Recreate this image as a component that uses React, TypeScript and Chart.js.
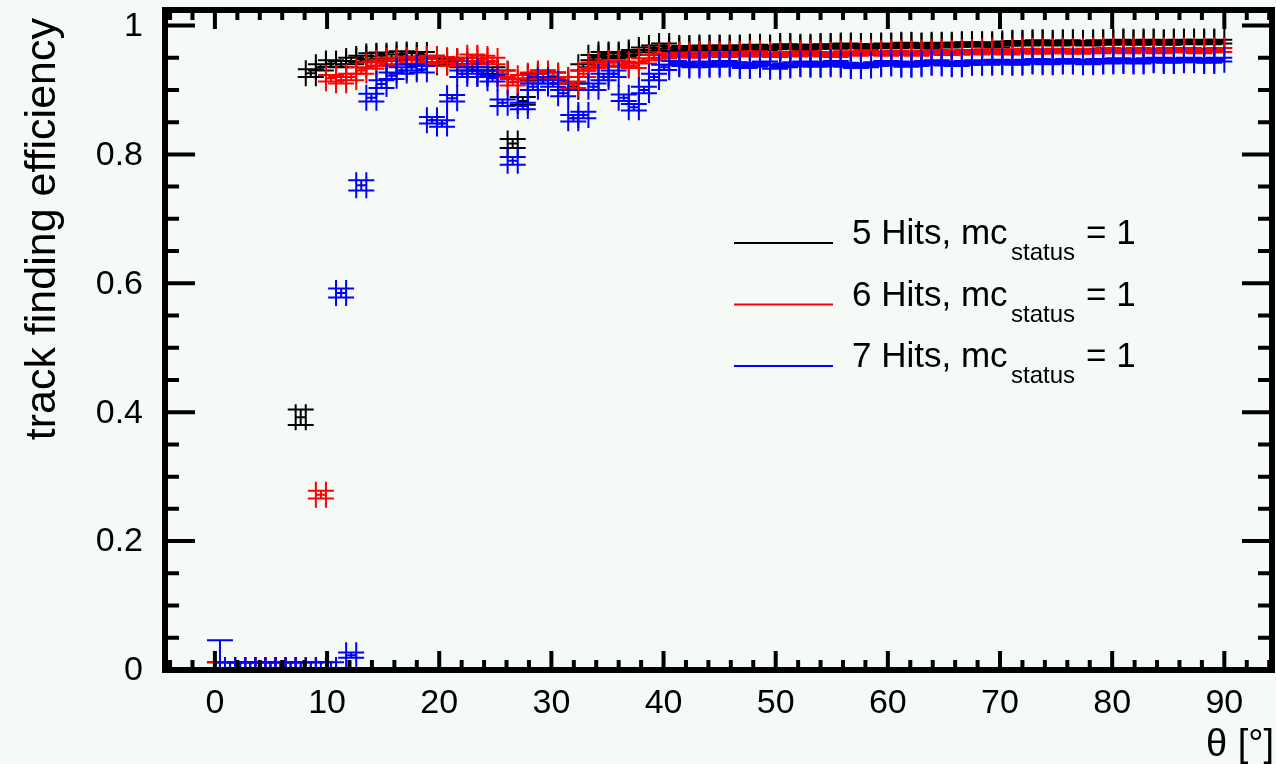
import React, { useEffect, useRef } from "react";
import { Chart, registerables } from "chart.js";

Chart.register(...registerables);

// ---- binning (100 bins of theta between 0 and 90 degrees) ----
const N_BINS = 100;
const THETA_MIN = 0;
const THETA_MAX = 90;
const BIN_HALF = (THETA_MAX - THETA_MIN) / N_BINS / 2;
const thetaCenters: number[] = Array.from({ length: N_BINS }, (_, i) => THETA_MIN + (2 * i + 1) * BIN_HALF);

// ---- efficiencies ----
const eff5Hits = [
  0, 0, 0, 0, 0, 0, 0, 0, 0.392, 0.926,
  0.935, 0.941, 0.940, 0.945, 0.948, 0.952, 0.953, 0.950, 0.955, 0.952,
  0.954, 0.948, 0.943, 0.945, 0.940, 0.935, 0.925, 0.930, 0.925, 0.817,
  0.883, 0.920, 0.925, 0.922, 0.915, 0.905, 0.935, 0.950, 0.955, 0.953,
  0.955, 0.958, 0.962, 0.965, 0.968, 0.963, 0.965, 0.964, 0.966, 0.965,
  0.966, 0.964, 0.966, 0.967, 0.965, 0.966, 0.968, 0.967, 0.965, 0.967,
  0.968, 0.967, 0.969, 0.968, 0.967, 0.968, 0.969, 0.968, 0.970, 0.969,
  0.968, 0.970, 0.969, 0.970, 0.971, 0.970, 0.971, 0.969, 0.972, 0.973,
  0.972, 0.974, 0.973, 0.972, 0.974, 0.973, 0.972, 0.974, 0.973, 0.975,
  0.974, 0.973, 0.975, 0.974, 0.973, 0.975, 0.974, 0.975, 0.974, 0.975,
];
const eff6Hits = [
  0, 0, 0, 0, 0, 0, 0, 0, 0, 0,
  0.272, 0.918, 0.915, 0.920, 0.930, 0.938, 0.942, 0.945, 0.944, 0.946,
  0.944, 0.948, 0.946, 0.942, 0.945, 0.950, 0.948, 0.945, 0.925, 0.912,
  0.918, 0.922, 0.925, 0.922, 0.915, 0.908, 0.925, 0.938, 0.940, 0.942,
  0.940, 0.938, 0.945, 0.950, 0.953, 0.954, 0.955, 0.953, 0.956, 0.955,
  0.954, 0.956, 0.955, 0.957, 0.955, 0.954, 0.956, 0.955, 0.957, 0.956,
  0.955, 0.954, 0.957, 0.956, 0.958, 0.957, 0.956, 0.958, 0.957, 0.956,
  0.958, 0.959, 0.957, 0.958, 0.959, 0.958, 0.960, 0.959, 0.958, 0.960,
  0.961, 0.959, 0.960, 0.961, 0.960, 0.959, 0.961, 0.960, 0.962, 0.961,
  0.960, 0.962, 0.961, 0.960, 0.962, 0.961, 0.962, 0.960, 0.961, 0.962,
];
const eff7Hits = [
  0, 0, 0, 0, 0, 0, 0, 0, 0, 0,
  0, 0, 0.585, 0.023, 0.752, 0.888, 0.909, 0.922, 0.930, 0.935,
  0.932, 0.853, 0.848, 0.887, 0.925, 0.930, 0.925, 0.918, 0.880, 0.790,
  0.875, 0.905, 0.915, 0.910, 0.895, 0.856, 0.861, 0.905, 0.920, 0.925,
  0.888, 0.873, 0.900, 0.920, 0.935, 0.942, 0.940, 0.938, 0.941, 0.939,
  0.942, 0.940, 0.937, 0.939, 0.941, 0.936, 0.938, 0.940, 0.941, 0.939,
  0.940, 0.942, 0.939, 0.937, 0.938, 0.940, 0.942, 0.941, 0.939, 0.940,
  0.942, 0.943, 0.941, 0.940, 0.942, 0.943, 0.942, 0.944, 0.943, 0.942,
  0.944, 0.945, 0.943, 0.944, 0.945, 0.944, 0.943, 0.945, 0.944, 0.946,
  0.945, 0.944, 0.946, 0.947, 0.945, 0.946, 0.947, 0.946, 0.945, 0.947,
];

// ---- statistical errors (upper; lower is limited by 0) ----
const err5Hits = [
  0.012, 0.012, 0.012, 0.012, 0.012, 0.012, 0.012, 0.012, 0.012, 0.006,
  0.005, 0.005, 0.005, 0.005, 0.005, 0.005, 0.005, 0.005, 0.005, 0.005,
  0.005, 0.005, 0.005, 0.005, 0.005, 0.005, 0.005, 0.005, 0.005, 0.007,
  0.006, 0.005, 0.005, 0.005, 0.005, 0.005, 0.005, 0.004, 0.004, 0.004,
  0.004, 0.004, 0.004, 0.004, 0.004, 0.003, 0.003, 0.003, 0.003, 0.003,
  0.003, 0.003, 0.003, 0.003, 0.003, 0.003, 0.003, 0.003, 0.003, 0.003,
  0.003, 0.003, 0.003, 0.003, 0.003, 0.003, 0.003, 0.003, 0.003, 0.003,
  0.003, 0.003, 0.003, 0.003, 0.003, 0.003, 0.003, 0.003, 0.003, 0.003,
  0.003, 0.003, 0.003, 0.003, 0.003, 0.003, 0.003, 0.003, 0.003, 0.003,
  0.003, 0.003, 0.003, 0.003, 0.003, 0.003, 0.003, 0.003, 0.003, 0.003,
];
const err6Hits = [
  0.012, 0.012, 0.012, 0.012, 0.012, 0.012, 0.012, 0.012, 0.012, 0.012,
  0.006, 0.005, 0.005, 0.005, 0.005, 0.005, 0.005, 0.005, 0.005, 0.005,
  0.005, 0.005, 0.005, 0.005, 0.005, 0.005, 0.005, 0.005, 0.005, 0.005,
  0.005, 0.005, 0.005, 0.005, 0.005, 0.005, 0.005, 0.004, 0.004, 0.004,
  0.004, 0.004, 0.004, 0.004, 0.004, 0.003, 0.003, 0.003, 0.003, 0.003,
  0.003, 0.003, 0.003, 0.003, 0.003, 0.003, 0.003, 0.003, 0.003, 0.003,
  0.003, 0.003, 0.003, 0.003, 0.003, 0.003, 0.003, 0.003, 0.003, 0.003,
  0.003, 0.003, 0.003, 0.003, 0.003, 0.003, 0.003, 0.003, 0.003, 0.003,
  0.003, 0.003, 0.003, 0.003, 0.003, 0.003, 0.003, 0.003, 0.003, 0.003,
  0.003, 0.003, 0.003, 0.003, 0.003, 0.003, 0.003, 0.003, 0.003, 0.003,
];
const err7Hits = [
  0.046, 0.012, 0.012, 0.012, 0.012, 0.012, 0.012, 0.012, 0.012, 0.012,
  0.012, 0.012, 0.007, 0.004, 0.008, 0.006, 0.006, 0.005, 0.005, 0.005,
  0.005, 0.005, 0.005, 0.005, 0.005, 0.005, 0.005, 0.005, 0.005, 0.006,
  0.005, 0.005, 0.005, 0.005, 0.005, 0.005, 0.005, 0.005, 0.005, 0.005,
  0.005, 0.005, 0.005, 0.005, 0.004, 0.003, 0.003, 0.003, 0.003, 0.003,
  0.003, 0.003, 0.003, 0.003, 0.003, 0.003, 0.003, 0.003, 0.003, 0.003,
  0.003, 0.003, 0.003, 0.003, 0.003, 0.003, 0.003, 0.003, 0.003, 0.003,
  0.003, 0.003, 0.003, 0.003, 0.003, 0.003, 0.003, 0.003, 0.003, 0.003,
  0.003, 0.003, 0.003, 0.003, 0.003, 0.003, 0.003, 0.003, 0.003, 0.003,
  0.003, 0.003, 0.003, 0.003, 0.003, 0.003, 0.003, 0.003, 0.003, 0.003,
];

// ---- series labels / axes text ----
const seriesNames = ["5 Hits, mc", "6 Hits, mc", "7 Hits, mc"];
const seriesSub = "status";
const seriesSuffix = "= 1";
const seriesColors = ["#000000", "#ff0000", "#0000ff"];
const xTicks = [0, 10, 20, 30, 40, 50, 60, 70, 80, 90];
const xTickLabels = ["0", "10", "20", "30", "40", "50", "60", "70", "80", "90"];
const yTicks = [0, 0.2, 0.4, 0.6, 0.8, 1];
const yTickLabels = ["0", "0.2", "0.4", "0.6", "0.8", "1"];
const xTitle = "θ [°]";
const yTitle = "track finding efficiency";

const X_MIN = -4.45;
const X_MAX = 94.25;
const Y_MIN = 0;
const Y_MAX = 1.024;
const X_MINOR = 2;
const Y_MINOR = 0.05;

const BG = "#f6faf7";
const FONT = "'Liberation Sans', Arial, Helvetica, sans-serif";

const errorBarsPlugin = {
  id: "rootErrorBars",
  afterDatasetsDraw(chart: any) {
    const { ctx, chartArea, scales } = chart;
    const xs = scales.x;
    const ys = scales.y;
    ctx.save();
    ctx.beginPath();
    ctx.rect(chartArea.left, chartArea.top, chartArea.right - chartArea.left, chartArea.bottom - chartArea.top);
    ctx.clip();
    const CAP = 13;
    chart.data.datasets.forEach((ds: any) => {
      ctx.strokeStyle = ds.borderColor;
      ctx.lineWidth = 2;
      ds.data.forEach((p: any, i: number) => {
        const e = ds.yErr[i];
        const lo = Math.max(p.y - e, 0);
        const hi = p.y + e;
        const px = xs.getPixelForValue(p.x);
        const py = ys.getPixelForValue(p.y);
        const xl = xs.getPixelForValue(p.x - BIN_HALF);
        const xr = xs.getPixelForValue(p.x + BIN_HALF);
        const pyl = ys.getPixelForValue(lo);
        const pyh = ys.getPixelForValue(hi);
        ctx.beginPath();
        ctx.moveTo(xl, py);
        ctx.lineTo(xr, py);
        ctx.moveTo(px, pyl);
        ctx.lineTo(px, pyh);
        ctx.moveTo(xl, py - CAP);
        ctx.lineTo(xl, py + CAP);
        ctx.moveTo(xr, py - CAP);
        ctx.lineTo(xr, py + CAP);
        ctx.moveTo(px - CAP, pyh);
        ctx.lineTo(px + CAP, pyh);
        ctx.moveTo(px - CAP, pyl);
        ctx.lineTo(px + CAP, pyl);
        ctx.stroke();
      });
    });
    ctx.restore();
  },
};

const framePlugin = {
  id: "rootFrame",
  beforeDraw(chart: any) {
    const { ctx, width, height } = chart;
    ctx.save();
    ctx.fillStyle = BG;
    ctx.fillRect(0, 0, width, height);
    ctx.restore();
  },
  afterDraw(chart: any) {
    const { ctx, chartArea, scales } = chart;
    const xs = scales.x;
    const ys = scales.y;
    const { left, right, top, bottom } = chartArea;
    ctx.save();
    ctx.strokeStyle = "#000";
    ctx.lineWidth = 4;
    ctx.beginPath();
    for (let v = Math.ceil(X_MIN / X_MINOR) * X_MINOR; v <= X_MAX; v += X_MINOR) {
      const major = xTicks.includes(v);
      const len = major ? 19 : 10;
      const px = xs.getPixelForValue(v);
      ctx.moveTo(px, bottom);
      ctx.lineTo(px, bottom - len);
      ctx.moveTo(px, top);
      ctx.lineTo(px, top + len);
    }
    for (let k = 0; k * Y_MINOR <= Y_MAX + 1e-9; k++) {
      const v = k * Y_MINOR;
      const major = k % 4 === 0;
      const len = major ? 30 : 14;
      const py = ys.getPixelForValue(v);
      ctx.moveTo(left, py);
      ctx.lineTo(left + len, py);
      ctx.moveTo(right, py);
      ctx.lineTo(right - len, py);
    }
    ctx.stroke();
    ctx.lineWidth = 6;
    ctx.strokeRect(left, top, right - left, bottom - top);

    // tick labels
    ctx.fillStyle = "#000";
    ctx.font = `34px ${FONT}`;
    ctx.textAlign = "right";
    ctx.textBaseline = "middle";
    yTicks.forEach((v, i) => {
      ctx.fillText(yTickLabels[i], 143, ys.getPixelForValue(v) + 1);
    });
    ctx.textAlign = "center";
    xTicks.forEach((v, i) => {
      ctx.fillText(xTickLabels[i], xs.getPixelForValue(v), 704);
    });

    // axis titles
    ctx.font = `38px ${FONT}`;
    ctx.textAlign = "right";
    ctx.textBaseline = "alphabetic";
    ctx.fillText(xTitle, right + 2, 756);

    ctx.save();
    ctx.translate(55, 18);
    ctx.rotate(-Math.PI / 2);
    ctx.font = `43px ${FONT}`;
    ctx.textAlign = "right";
    ctx.fillText(yTitle, 0, 0);
    ctx.restore();

    // legend
    const rows = [244, 305.5, 367];
    chart.data.datasets.forEach((ds: any, i: number) => {
      const yb = rows[i];
      ctx.strokeStyle = ds.borderColor;
      ctx.lineWidth = 2;
      ctx.beginPath();
      ctx.moveTo(734, yb - 1);
      ctx.lineTo(833, yb - 1);
      ctx.stroke();
      ctx.fillStyle = "#000";
      ctx.textAlign = "left";
      ctx.font = `35px ${FONT}`;
      ctx.fillText(ds.label, 852, yb);
      ctx.font = `24px ${FONT}`;
      ctx.fillText(seriesSub, 1011, yb + 16);
      ctx.font = `35px ${FONT}`;
      ctx.fillText(seriesSuffix, 1086, yb);
    });
    ctx.restore();
  },
};

export default function App() {
  const canvasRef = useRef<HTMLCanvasElement | null>(null);

  useEffect(() => {
    document.body.style.background = BG;
    const canvas = canvasRef.current;
    if (!canvas) return;
    const series = [eff5Hits, eff6Hits, eff7Hits];
    const errs = [err5Hits, err6Hits, err7Hits];
    const chart = new Chart(canvas, {
      type: "scatter",
      data: {
        datasets: series.map((vals, s) => ({
          label: seriesNames[s],
          data: thetaCenters.map((t, i) => ({ x: t, y: vals[i] })),
          borderColor: seriesColors[s],
          backgroundColor: seriesColors[s],
          pointRadius: 0,
          showLine: false,
          yErr: errs[s],
        })) as any,
      },
      options: {
        responsive: false,
        animation: false,
        devicePixelRatio: 1,
        layout: { padding: { left: 165, right: 4, top: 10, bottom: 94 } },
        scales: {
          x: { type: "linear", min: X_MIN, max: X_MAX, display: false },
          y: { type: "linear", min: Y_MIN, max: Y_MAX, display: false },
        },
        plugins: {
          legend: { display: false },
          tooltip: { enabled: false },
        },
      },
      plugins: [framePlugin, errorBarsPlugin],
    });
    return () => chart.destroy();
  }, []);

  return (
    <div style={{ position: "fixed", left: 0, top: 0, width: 1276, height: 764, background: BG }}>
      <canvas ref={canvasRef} width={1276} height={764} style={{ display: "block", width: 1276, height: 764 }} />
    </div>
  );
}
